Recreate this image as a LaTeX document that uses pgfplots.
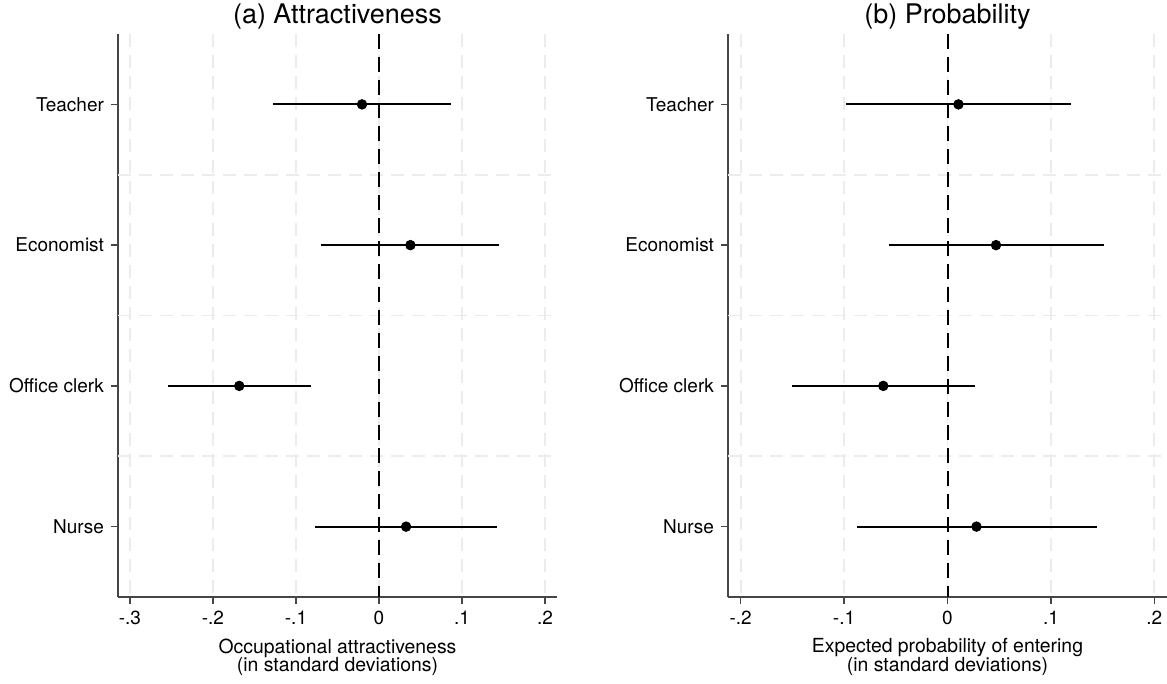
\documentclass[border=0pt]{standalone}
\usepackage{fontspec}
\setmainfont{TeX Gyre Heros}
\usepackage{pgfplots}
\pgfplotsset{compat=1.18}
\usepackage{pgfplotstable}

\pgfplotstableread{
cat pt lo hi
1 -0.0205 -0.1277 0.0862
2 0.0378 -0.0695 0.1446
3 -0.1683 -0.2545 -0.0819
4 0.0326 -0.0772 0.1424
}\attract

\pgfplotstableread{
cat pt lo hi
1 0.0106 -0.0977 0.1193
2 0.0469 -0.0566 0.1511
3 -0.0621 -0.1502 0.0267
4 0.0280 -0.0875 0.1441
}\prob

\definecolor{gridc}{RGB}{236,236,236}
\definecolor{axc}{RGB}{70,70,70}

\pgfplotsset{
  coefstyle/.style={
    scale only axis, width=219.5pt, height=281.5pt,
    y dir=reverse, ymin=0.5, ymax=4.5,
    ytick={1,2,3,4}, yticklabels={Teacher,Economist,Office clerk,Nurse},
    axis x line*=bottom, axis y line*=left,
    axis line style={axc, line width=0.8pt, -},
    tick style={axc, line width=0.8pt},
    major tick length=3.5pt,
    tick align=outside,
    xmajorgrids,
    grid style={gridc, line width=0.9pt, dash pattern=on 6.5pt off 4pt},
    extra y ticks={1.5,2.5,3.5},
    extra y tick labels={},
    extra y tick style={ymajorgrids=true, major tick length=0pt},
    ticklabel style={font=\fontsize{9.5}{10}\selectfont, text=black},
    xlabel style={font=\fontsize{9.7}{9.4}\selectfont, align=center, text=black},
    title style={font=\fontsize{13.5}{15}\selectfont, at={(0.5,1)}, anchor=center, yshift=2.5pt},
    clip=false,
  },
  ci/.style={only marks, mark=*, mark size=2.4pt, black,
    error bars/.cd, x dir=both, x explicit, error mark=none,
    error bar style={line width=0.9pt, black}},
  zeroline/.style={black, line width=1pt, dash pattern=on 7.5pt off 4pt},
}

\begin{document}
\begin{tikzpicture}
\begin{axis}[coefstyle, at={(0pt,0pt)}, anchor=south west,
  xmin=-0.3143, xmax=0.2143,
  xtick={-0.3,-0.2,-0.1,0,0.1,0.2}, xticklabels={-.3,-.2,-.1,0,.1,.2},
  title={(a) Attractiveness},
  xlabel={Occupational attractiveness\\(in standard deviations)}]
\addplot[zeroline] coordinates {(0,0.5) (0,4.5)};
\addplot[ci] table[x=pt, y=cat, x error plus expr=\thisrow{hi}-\thisrow{pt}, x error minus expr=\thisrow{pt}-\thisrow{lo}] {\attract};
\end{axis}
\begin{axis}[coefstyle, at={(305pt,0pt)}, anchor=south west,
  xmin=-0.2122, xmax=0.2122,
  xtick={-0.2,-0.1,0,0.1,0.2}, xticklabels={-.2,-.1,0,.1,.2},
  title={(b) Probability},
  xlabel={Expected probability of entering\\(in standard deviations)}]
\addplot[zeroline] coordinates {(0,0.5) (0,4.5)};
\addplot[ci] table[x=pt, y=cat, x error plus expr=\thisrow{hi}-\thisrow{pt}, x error minus expr=\thisrow{pt}-\thisrow{lo}] {\prob};
\end{axis}
\pgfresetboundingbox
\path (-59pt,-43.5pt) rectangle (524.5pt,298.5pt);
\end{tikzpicture}
\end{document}
